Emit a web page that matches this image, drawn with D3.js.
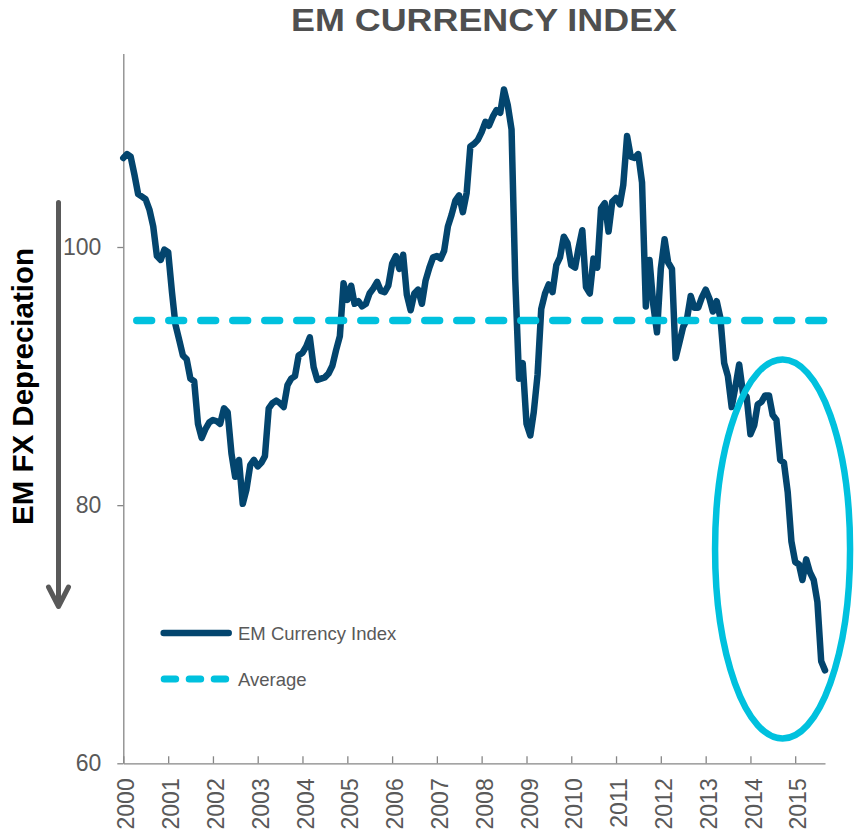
<!DOCTYPE html>
<html>
<head>
<meta charset="utf-8">
<script src="https://cdnjs.cloudflare.com/ajax/libs/d3/7.8.5/d3.min.js"></script>
<style>
body { margin: 0; background: #ffffff; }
svg { display: block; font-family: "Liberation Sans", Arial, sans-serif; }
</style>
</head>
<body>
<div id="mainDiv"></div>
<script>

// monthly index, Jan 2000 .. Sep 2015
var indexValues = [
    106.9, 107.2, 107.0, 105.6, 104.1, 103.9, 103.7, 102.9, 101.6, 99.3, 99.0, 99.8,   // 2000
    99.6, 96.5, 94.0, 92.8, 91.6, 91.3, 89.8, 89.6, 86.3, 85.2, 85.9, 86.4,            // 2001
    86.6, 86.5, 86.3, 87.5, 87.2, 84.0, 82.2, 83.5, 80.1, 81.2, 83.1, 83.5,            // 2002
    83.0, 83.3, 83.8, 87.5, 87.9, 88.1, 87.9, 87.6, 89.3, 89.8, 90.0, 91.6,            // 2003
    91.8, 92.3, 93.0, 90.7, 89.7, 89.8, 89.9, 90.2, 90.8, 92.0, 93.1, 97.2,            // 2004
    95.9, 97.0, 95.6, 95.8, 95.4, 95.6, 96.4, 96.8, 97.3, 96.6, 96.5, 97.0,            // 2005
    98.7, 99.3, 98.3, 99.4, 96.3, 95.1, 96.4, 96.7, 95.6, 97.4, 98.4, 99.2,            // 2006
    99.3, 99.1, 99.7, 101.6, 102.5, 103.6, 104.0, 102.7, 104.2, 107.8, 108.0, 108.3,   // 2007
    108.9, 109.7, 109.4, 110.1, 110.6, 110.4, 112.2, 111.0, 109.1, 97.5, 89.8, 91.0,   // 2008
    86.3, 85.4, 87.2, 90.1, 95.2, 96.4, 97.1, 96.5, 98.6, 99.2, 100.8, 100.3,          // 2009
    98.6, 98.4, 99.9, 101.3, 96.9, 96.4, 99.1, 98.4, 103.0, 103.4, 101.2, 103.5,       // 2010
    103.8, 103.3, 104.8, 108.6, 107.0, 106.9, 107.2, 105.0, 95.4, 99.0, 95.5, 93.4,    // 2011
    98.3, 100.6, 98.8, 98.3, 91.4, 92.6, 93.8, 94.4, 96.2, 95.3, 95.3, 96.1,           // 2012
    96.7, 96.0, 95.0, 95.8, 94.5, 91.0, 90.0, 87.6, 89.2, 90.9, 88.7, 88.4,            // 2013
    85.5, 86.2, 87.8, 88.0, 88.5, 88.5, 87.0, 86.6, 83.5, 83.3, 81.0, 77.2,            // 2014
    75.6, 75.4, 74.2, 75.8, 74.8, 74.2, 72.5, 67.9, 67.2                               // 2015
];

var averageValue = 94.3;

var seriesNames = ["EM Currency Index", "Average"];

var yearTicks = [2000, 2001, 2002, 2003, 2004, 2005, 2006, 2007,
                 2008, 2009, 2010, 2011, 2012, 2013, 2014, 2015];

var valueTicks = [60, 80, 100];

var titleText = "EM CURRENCY INDEX";
var sideLabel = "EM FX Depreciation";

// circled area (month, value)
var highlightMonth = new Date(2014, 8, 20);
var highlightValue = 76.6;

var indexColor = "#03456e";
var averageColor = "#00c1de";
var axisColor = "#868686";
var labelColor = "#595959";

function drawChart(){

    var months = d3.timeMonth.range(new Date(2000, 0, 1), new Date(2015, 9, 1));

    var svg = d3.select("#mainDiv").append("svg")
        .attr("width", 854).attr("height", 836).attr("id", "mainCanvas");

    var x = d3.scaleTime()
        .domain([months[0], months[months.length - 1]])
        .range([123.3, 825]);

    var y = d3.scaleLinear().domain([60, 115]).range([763.3, 53.4]);

    // title
    svg.append("text").attr("x", 484).attr("y", 31)
        .attr("text-anchor", "middle").attr("font-size", 32).attr("font-weight", "bold")
        .attr("fill", "#4f4f4f").attr("textLength", 386).attr("lengthAdjust", "spacingAndGlyphs")
        .text(titleText);

    // y axis
    var yAxis = svg.append("g").attr("transform", "translate(123.3,0)")
        .call(d3.axisLeft(y).tickValues(valueTicks).tickSize(6).tickSizeOuter(0).tickPadding(16));
    yAxis.select(".domain").attr("stroke", axisColor).attr("stroke-width", 1.3);
    yAxis.selectAll(".tick line").attr("stroke", axisColor).attr("stroke-width", 1.3);
    yAxis.selectAll(".tick text").attr("font-size", 23).attr("fill", labelColor)
        .attr("font-family", "Liberation Sans, Arial, sans-serif");

    // x axis, ticks point inwards, labels turned
    var yearDates = yearTicks.map(function(yr){ return new Date(yr, 0, 1); });
    var xAxis = svg.append("g").attr("transform", "translate(0,763.3)")
        .call(d3.axisBottom(x).tickValues(yearDates).tickSize(-7).tickSizeOuter(0)
            .tickFormat(d3.timeFormat("%Y")));
    xAxis.select(".domain").attr("stroke", axisColor).attr("stroke-width", 1.3);
    xAxis.selectAll(".tick line").attr("stroke", axisColor).attr("stroke-width", 1.3);
    xAxis.selectAll(".tick text").attr("font-size", 23).attr("fill", labelColor)
        .attr("font-family", "Liberation Sans, Arial, sans-serif")
        .attr("transform", "rotate(-90)").attr("x", -15).attr("y", 2.5)
        .attr("dy", "0.35em").style("text-anchor", "end");

    // side label + arrow
    svg.append("text").attr("transform", "translate(33.3,386.5) rotate(-90)")
        .attr("text-anchor", "middle").attr("font-size", 29.5).attr("font-weight", "bold")
        .attr("fill", "#000000").text(sideLabel);

    svg.append("line").attr("x1", 58.5).attr("y1", 202.5).attr("x2", 58.5).attr("y2", 605)
        .attr("stroke", labelColor).attr("stroke-width", 5).attr("stroke-linecap", "round");
    svg.append("polyline").attr("points", "48.5,587 58.5,606.5 68.5,587")
        .attr("fill", "none").attr("stroke", labelColor).attr("stroke-width", 5)
        .attr("stroke-linecap", "round").attr("stroke-linejoin", "round");

    // index line
    var line = d3.line()
        .x(function(d, i){ return x(months[i]); })
        .y(function(d){ return y(d); });

    svg.append("path").datum(indexValues).attr("d", line)
        .attr("fill", "none").attr("stroke", indexColor).attr("stroke-width", 6.5)
        .attr("stroke-linejoin", "round").attr("stroke-linecap", "round");

    // average line
    svg.append("line")
        .attr("x1", x(months[0])).attr("x2", x(months[months.length - 1]))
        .attr("y1", y(averageValue)).attr("y2", y(averageValue))
        .attr("stroke", averageColor).attr("stroke-width", 7.5)
        .attr("stroke-dasharray", "14.8,17.2").attr("stroke-dashoffset", 18.5)
        .attr("stroke-linecap", "round");

    // legend
    var legend = svg.append("g");
    legend.append("line").attr("x1", 163.7).attr("x2", 228.7).attr("y1", 633).attr("y2", 633)
        .attr("stroke", indexColor).attr("stroke-width", 6.5).attr("stroke-linecap", "round");
    legend.append("line").attr("x1", 164.2).attr("x2", 225.8).attr("y1", 679).attr("y2", 679)
        .attr("stroke", averageColor).attr("stroke-width", 7).attr("stroke-linecap", "round")
        .attr("stroke-dasharray", "11.5,13.5");
    legend.selectAll("text").data(seriesNames).enter().append("text")
        .attr("x", 238).attr("y", function(d, i){ return 639.6 + i * 46; })
        .attr("font-size", 18.5).attr("fill", labelColor).text(function(d){ return d; });

    // circled region
    svg.append("ellipse")
        .attr("cx", x(highlightMonth)).attr("cy", y(highlightValue))
        .attr("rx", 67.5).attr("ry", 189.5)
        .attr("fill", "none").attr("stroke", averageColor).attr("stroke-width", 6.5);
}

drawChart();
</script>
</body>
</html>
